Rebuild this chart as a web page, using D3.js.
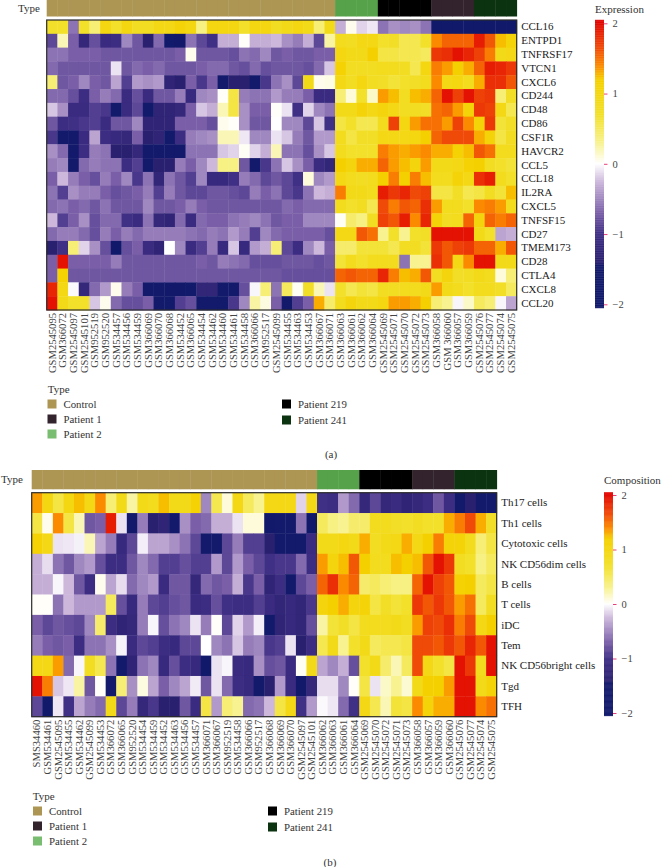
<!DOCTYPE html>
<html><head><meta charset="utf-8">
<style>html,body{margin:0;padding:0;background:#fff}svg{display:block}text{font-family:"Liberation Serif",serif;fill:#333}</style>
<script src="https://cdn.jsdelivr.net/npm/d3@7"></script></head><body><svg id="c" width="662" height="867"></svg>
<script>
const genes=["CCL16","ENTPD1","TNFRSF17","VTCN1","CXCL6","CD244","CD48","CD86","CSF1R","HAVCR2","CCL5","CCL18","IL2RA","CXCL5","TNFSF15","CD27","TMEM173","CD28","CTLA4","CXCL8","CCL20"];
const samplesA=["GSM2545095","GSM366072","GSM2545097","GSM2545101","GSM952519","GSM952520","GSM534457","GSM534456","GSM534459","GSM366069","GSM366070","GSM366068","GSM534452","GSM366065","GSM534454","GSM534462","GSM534460","GSM534461","GSM534458","GSM366066","GSM952517","GSM2545099","GSM534455","GSM534463","GSM534453","GSM366067","GSM366071","GSM366063","GSM366061","GSM366062","GSM366064","GSM2545069","GSM2545071","GSM2545070","GSM2545072","GSM2545073","GSM366058","GSM 366060","GSM366057","GSM366059","GSM2545076","GSM2545077","GSM2545074","GSM2545075"];
const cells=["Th17 cells","Th1 cells","Cytotoxic cells","NK CD56dim cells","B cells","T cells","iDC","Tem","NK CD56bright cells","Tgd","TFH"];
const samplesB=["SMS34460","GSM534461","GSM2545095","GSM534455","GSM534462","GSM2545099","GSM534453","GSM366072","GSM366065","GSM952520","GSM534454","GSM534459","GSM534452","GSM534463","GSM534456","GSM534457","GSM366071","GSM366067","GSM952519","GSM534458","GSM366066","GSM952517","GSM366068","GSM366069","GSM366070","GSM2545097","GSM2545101","GSM366062","GSM366063","GSM366061","GSM366064","GSM2545069","GSM2545070","GSM2545072","GSM2545071","GSM2545073","GSM366058","GSM366057","GSM366059","GSM366060","GSM2545076","GSM2545077","GSM2545074","GSM2545075"];
const typeNames=["Control","Patient 1","Patient 2","Patient 219","Patient 241"];
const typeColors=["#ad9554","#33232d","#56a24a","#000000","#0c3310"];
const legendColors=["#ad9554","#33232d","#78bd70","#000000","#0c3310"];
const typeOrder=["Control","Patient 2","Patient 219","Patient 1","Patient 241"];
const typeCounts=[27,4,5,4,4];
const colorStops=[-2.05,-1.45,-1.4,-1,-0.7,-0.25,0,0.3,0.7,1.2,1.4,1.65,2.05];
const colorValues=["#10196b","#141a6b","#2a2070","#3f2f85","#7a5fa8","#cdb8dc","#ffffff","#f8f290","#f2e02a","#f5d000","#fb8a00","#f04a08","#e00000"];
const legendTicks=[-2,-1,0,1,2];

const expression=[
[.7,.7,-.6,.7,.4,1,.7,1,.8,.8,.95,.95,1.1,1,.35,1,1,1,.7,1,1,.8,.9,1,.9,.4,.9,-.3,.05,-.15,-.08,-.6,-.45,-.5,-.45,-.6,-1.9,-1.9,-1.9,-1.9,-1.9,-1.9,-1.9,-1.9],
[-.85,.2,-.7,-1.2,-.8,-1.1,-1.05,-.5,-.75,-1.4,-.65,-1.7,-1.8,-.6,-.85,-1,-.3,-.3,.02,-.3,-.3,-.25,-.45,-.55,-.3,-.85,.25,.85,.8,.95,.95,.7,.75,.55,.55,.7,1.4,1.55,1.55,1.55,1.9,1.6,1.25,1.1],
[-.6,-.6,-.7,-.7,-.7,-.75,-.75,-.75,-.75,-.75,-.75,-.75,-.7,.05,-.75,-.75,-.75,-.8,-.6,-.65,-.5,-.75,-.7,-.75,-.75,-.7,-.7,1,.9,.9,1.2,.6,.6,.55,.55,.5,1.75,1.8,1.95,1.85,1.7,1.45,.9,.95],
[-.65,-.75,-.75,-.75,-.75,-.75,-.1,-.75,-.65,-.7,-.65,-.75,-.75,-.75,-.7,-.65,-.65,-.75,-.8,-.65,-.8,-.75,-.75,-.75,-.8,-.65,-.2,1.15,.8,.8,.8,.85,.85,.8,.55,1,1.45,1.35,1.2,1.3,1.55,1.9,1.85,1.75],
[.4,-.75,-.7,-.5,-.7,-.75,-.35,-.9,-.4,-.45,-.4,-1.3,-1.4,-.7,-.95,-.7,-1.45,-1.4,-1.4,-1.6,-.95,-.6,-.45,-.85,.9,.05,.07,.95,.8,1,.8,.75,.65,.7,.75,.85,1.4,.95,1,.85,1.3,1.8,1.8,1.6],
[-.65,-.65,-.8,-1.05,-.7,-.55,-.65,-1.1,-.8,-1.1,-.75,-.75,-.55,-1.15,-.5,-.45,.02,.6,-.55,-.6,-.6,-.4,-.55,-.55,-.7,-1.1,-1.1,.4,.1,.7,.15,1.35,1.25,.8,1.25,1.3,1.55,1.95,1.7,1.95,1.7,1.75,.4,.75],
[-.2,-.45,-1.1,-1.1,-.9,-.95,-1.7,-1.1,-.85,-1.7,-1.3,-1.3,-1.2,-.7,-.2,-.3,.2,.6,-.45,-.7,-.7,.02,-.1,-1,-.15,-.5,-.6,.9,.9,1.1,.95,1.05,.95,.8,.8,.75,1.5,1.55,1.35,1.1,1.75,1.7,.95,.55],
[-.75,-1.05,-1,-.95,-.9,-1.1,-.75,-.75,-.5,-1.3,-1.3,-1.3,-.7,-.7,-.7,-.8,.05,.02,-.45,-.75,-.75,0,-.5,-.5,-.85,-.2,-1,.6,.7,.55,.55,.85,1.7,1,1.35,1.5,1.5,1.35,1.7,1.4,1.1,1.75,.65,.75],
[-.95,-1.6,-1.6,-1.1,-.35,-1.05,-1.15,-1.2,-.7,-1.4,-1.3,-1.7,-1.05,-.55,-.5,-.45,.2,.2,-.08,-.5,-.5,-.1,-.2,-.55,-.75,-.4,-.4,.85,.6,.75,.75,.95,.95,.95,1,1.2,1.55,1.65,1.65,1.65,1.3,1.1,.6,.8],
[-.45,-.65,-1.5,-1.05,-.55,-.6,-1.4,-1.4,-1.2,-1.5,-1.5,-1.5,-1.5,-.6,-.6,-.6,-.2,-.15,.03,-.15,-.3,.2,-.6,-.6,-.8,-.45,-.2,.85,.7,.7,.7,1.45,1.35,1.3,1.35,1.4,1.3,1.3,1.15,1.25,1.6,1.5,.85,.85],
[-.55,-.5,-1.6,-.65,-.55,-.6,-.6,-1.05,-.9,-1.5,-1.4,-1.4,-.55,-.7,-.5,-.25,.35,.35,-.75,-1.5,-.95,-.6,-.2,-.45,-.7,-1.1,-1.25,1.2,1.05,1.3,1.3,1.55,1.35,1.25,1.05,1.35,.9,.9,.95,1.15,1.2,.8,.7,.65],
[-.7,-.25,-.55,-.7,-.8,-.55,-.7,-.5,-.95,-.6,-1.25,-.6,-.75,-.9,-.5,-1.15,-1.15,-1,-.55,-.65,-.85,-.75,-.85,-1,.1,-.5,-.4,.95,.85,.8,.85,1.2,1.45,1.2,1.45,1.25,.85,.85,1.1,.95,1.8,1.9,.85,.7],
[-.6,-.9,-.45,-.55,-.55,-.7,-.8,-.75,-.7,-.55,-.9,-.55,-.75,-.85,-.85,-.75,-.75,-.8,-.85,-.55,-.7,-.6,-.85,-.95,-.6,-.25,-.3,1.45,.9,.9,.85,1.9,1.75,1.85,1.65,1.7,.6,.6,.75,.55,.6,.8,.65,1.25],
[-.65,-.6,-.7,-.65,-.75,-.6,-.75,-.75,-.75,-.5,-.75,-.75,-.7,-.55,-.7,-.75,-.75,-.75,-.75,-.75,-.75,-.75,-.65,-.7,-.65,-.65,-.65,.85,.7,.8,.55,1.65,1.45,1.6,1.55,1.8,1.35,.85,.85,.7,1.4,1.45,1.35,.85],
[-.25,-.9,-.7,-.45,-.8,-.65,-.65,-1,-1.1,-.6,-1.2,-1.3,-.65,-1.1,-.65,-.7,-.7,-.6,-.55,-.5,-.6,-.75,-.7,-.7,-.5,-.5,-.5,.03,.45,.35,.8,1.7,1.6,1.9,1.4,1.85,1.1,.8,.85,1.55,1.05,1.55,1.45,1.55],
[-.65,-.55,-.55,-.65,-.8,-.55,-.7,-.55,-.65,-.55,-.55,-.55,-.55,-.6,-.65,-.55,-.6,-.4,-.55,-.9,-.5,-.65,-.7,-.7,-.7,-.7,-.8,.95,.95,1.6,1.5,.3,.7,.3,.7,.75,1.95,1.95,1.95,1.95,.9,.7,-.35,-.3],
[-1.4,-1,.4,-.15,-.45,-.8,-1.9,-.8,-.7,-1.1,-1.3,0,-.5,-1.1,-.9,-.55,-1.15,-.2,-1.15,-.4,-.3,.4,-.85,-1.05,-.5,-.25,-.7,.45,.45,.65,.65,.65,.55,.8,.8,.65,1.75,1.6,1.7,1.75,1.55,1.55,1.3,1.6],
[-.7,1.95,-.7,-.7,-.7,-.7,-.55,-.75,-.75,-.75,-.75,-.75,-.75,-.75,-.7,-.75,-.55,-.6,-.65,-.8,-.8,-.8,-.75,-.75,-.75,-.8,-.75,.65,.85,.7,.85,.85,.85,-.6,.3,.3,1.8,1.6,.95,1.4,1.95,1.95,.9,.9],
[-.7,1.15,-.75,-.75,-.75,-.75,-.75,-.75,-.75,-.75,-.75,-.75,-.75,-.75,-.75,-.75,-.75,-.75,-.75,-.75,-.75,-.75,-.8,-.8,-.8,-.8,-.8,1.55,1.6,1.55,1.55,1.85,1.45,1.25,1.3,1.6,.8,1.05,.75,.8,.9,.85,.1,.4],
[1.85,.95,-.02,-1.2,-.65,-.4,.05,-.55,-.7,-1.6,-1.6,-1.8,-1.8,-1.7,-1.25,-1.25,-1.5,-1.5,-.8,-.03,.4,-.6,.5,.03,.75,.2,-.1,.7,.55,.65,.6,.8,.8,.85,.85,.9,1.35,.9,.85,.7,.85,.85,.75,.5],
[1.95,.9,.7,.7,-.2,.05,-.65,-.8,-.8,-.7,-1.5,-1.7,-.9,-.8,-1.5,-1.55,-1.7,-.95,-.5,.25,.08,-.7,-1.6,-.9,-.7,1.3,.45,.85,1.05,.9,.9,1,1.35,1.35,1.3,1.2,.4,.3,-.03,.15,.5,.4,-.03,-.35]
];
const composition=[
[1.35,1,.6,1,1.25,.95,1.4,.4,.9,.25,.9,.85,1.25,.9,.9,1.15,-.5,.55,.1,.95,.5,.3,.95,.95,.95,-.15,.95,-1,-1.05,-.4,-.65,-1.2,-.85,-1.2,-1.1,-1.3,-1.2,-1.05,-.75,-1.05,-1.6,-1.4,-1.6,-1.5],
[.6,.05,1.4,.6,.2,-.75,-.7,1.9,-.1,-1.5,-.55,-1.4,-1.3,-1.5,-.45,-.7,-.65,-.3,-.3,-.1,.1,.1,-1.8,-1.5,-1.5,-.6,-1.9,.5,.35,.3,.45,.45,.85,.85,.75,.7,.8,.7,.7,1.3,1.45,1.65,1.3,.75],
[1.15,.95,-.1,-.08,-.05,.2,-.35,-.55,-1.15,-.85,-.06,-.35,-.35,-.45,-.6,-.85,-1.6,-1.45,-.85,-.55,-.9,-.9,-1.4,-1.6,-1.5,-1.5,-1.1,.9,.9,1,.9,1.3,.8,.9,.95,1.3,.95,1.2,1.45,1.1,1.1,.85,.4,.6],
[-.3,-.12,-.6,-.75,-.5,-.4,-.8,-1.05,-1.05,-.75,-.5,-.65,-.9,-.9,-.8,-.9,-.9,-.4,-.85,-.4,-.7,-.85,-1,-.95,-.95,-.65,-1.05,1.35,1.05,1.25,1.6,1.2,.85,.85,1.25,1.2,1.25,1.6,1.95,1.75,.8,.7,.35,.5],
[-.3,-.3,-.03,-.25,-.75,-1.05,.05,-.35,-.12,-.65,-.5,-.4,-1.1,-.75,-.75,-1.2,-.65,-.75,-.7,-.3,-.95,-.7,-1.3,-1.05,-1.5,-.85,-.7,1.55,1.8,1.4,1.55,.45,.5,.4,.35,.35,1.55,1.95,1.7,1.6,1.15,1.2,.5,.6],
[.02,.02,-.6,-.25,-.4,-.4,-.4,.5,-.8,-1.15,-.55,-.85,-.9,-.8,-.75,-1.1,-1.05,-.8,-1,-1.05,-1.05,-.9,-1.1,-1.25,-1.15,-1.25,-.95,1.05,1.2,1.3,1.05,1.1,.6,.75,.65,.7,1.75,1.6,1.75,1.6,1.35,1.5,.5,.8],
[-.7,-.85,-.75,-.8,-.85,-.5,.45,-1.05,-1.3,-1.2,-.55,-.03,-.8,-.6,-.5,-.1,-.55,.02,-.85,-.15,-.4,-.06,-1.7,-1.3,-1.15,-1.25,-.8,.25,.65,.75,.6,.85,.85,.85,.9,.8,1.35,1.7,1.65,1.8,1.45,1.65,.95,1.2],
[-.55,-.7,-.75,-.7,-1.05,-.6,-.6,-.45,-.04,-1.1,-.85,-.9,-1.05,-1.15,-.85,-.85,0,-.5,-.6,-.2,-.55,-.5,-.95,-.9,-.1,-1.4,-1.05,.55,.9,.3,.7,.9,.5,.55,.55,.6,1.65,1.65,1.6,1.75,1.6,1.85,1.6,1.95],
[.95,.95,1.35,-.65,-.03,.8,.55,-.6,-1.6,-1.3,-.6,-.5,-1.15,-.8,-1.05,-1.15,-1.85,-.1,-.03,-1.1,-1.15,-.45,-.8,-.75,-1.1,.03,.9,-.35,-.5,-.3,-.8,.7,.9,.45,.2,.5,1.65,.95,.7,.6,1.95,1.75,.85,1.95],
[1.95,1.45,-.2,-.08,.25,-.75,.02,-1.6,.4,-.45,.08,-.35,-.7,-.5,-.35,-.07,-.75,-.1,-.65,-1.05,-1.15,-1.5,-1.4,-.4,-1.1,-1.8,-1.2,-.12,-.12,-.5,.02,.6,-.1,.15,.3,.12,.9,1.2,1.2,1.35,1.95,1.95,.9,1.1],
[-.85,-1.85,-.08,-1,-.35,-.55,-.65,.9,-.85,-.55,-1.2,-.95,-1.4,-1.4,-.75,-1.1,.6,-.4,.4,.3,-.65,-.6,-.25,.6,.95,-1,-.4,-.02,-.08,-.65,-1,.95,.55,.2,.65,.6,1.4,1.1,1.3,1.3,1.95,1.95,1.4,1.5]
];

const svg=d3.select("#c");
const color=d3.scaleLinear().domain(colorStops).range(colorValues).clamp(true);
const panelTypes=typeOrder.flatMap((t,i)=>d3.range(typeCounts[i]).map(()=>t));
const typeColor=d3.scaleOrdinal().domain(typeNames).range(typeColors);
const legendColor=d3.scaleOrdinal().domain(typeNames).range(legendColors);

function panel(o){
  const g=svg.append("g");
  const x=d3.scaleBand().domain(o.samples.map((s,i)=>i)).range([o.x0,o.x1]);
  const y=d3.scaleBand().domain(o.rows).range([o.y0,o.y1]);
  g.append("text").attr("x",o.typeX).attr("y",(o.barY0+o.barY1)/2).attr("dy","0.33em").attr("font-size",11).text("Type");
  g.append("g").selectAll("rect").data(panelTypes).join("rect")
    .attr("x",(d,i)=>x(i)).attr("width",x.bandwidth()+.4).attr("y",o.barY0).attr("height",o.barY1-o.barY0).attr("fill",d=>typeColor(d));
  o.matrix.forEach((vals,r)=>{
    g.append("g").selectAll("rect").data(vals).join("rect")
      .attr("x",(d,i)=>x(i)).attr("y",y(o.rows[r])).attr("width",x.bandwidth()+.4).attr("height",y.bandwidth()+.4).attr("fill",d=>color(d));
  });
  g.append("rect").attr("x",o.x0).attr("y",o.y0).attr("width",o.x1-o.x0).attr("height",o.y1-o.y0).attr("fill","none").attr("stroke","#2a2a2a").attr("stroke-width",1.2);
  const ax=g.append("g").attr("transform",`translate(0,${o.y1})`)
    .call(d3.axisBottom(x).tickSize(0).tickFormat(i=>o.samples[i]));
  ax.select(".domain").remove();
  ax.selectAll("text").attr("font-size",10.6).attr("text-anchor","end").style("fill","#444")
    .attr("font-family",null).attr("transform","rotate(-90)").attr("x",-3).attr("y",0).attr("dy","0.33em");
  const ay=g.append("g").attr("transform",`translate(${o.x1},0)`)
    .call(d3.axisRight(y).tickSize(0).tickPadding(o.rowPad));
  ay.select(".domain").remove();
  ay.selectAll("text").attr("font-size",11).style("fill","#222");

  // colour bar
  const ly=d3.scaleLinear().domain([-2,2]).range([o.ly2,o.ly1]);
  const bar=g.append("g");
  const steps=d3.range(-2.05,2.05,0.01);
  bar.selectAll("rect").data(steps).join("rect")
    .attr("x",o.lx).attr("width",9).attr("y",d=>ly(d+0.01)).attr("height",d=>Math.abs(ly(d)-ly(d+0.01))+.4).attr("fill",d=>color(d));
  const la=g.append("g").attr("transform",`translate(${o.lx+9},0)`)
    .call(d3.axisRight(ly).tickValues(legendTicks).tickSize(3.5).tickPadding(5).tickFormat(d=>d<0?"\u2212"+(-d):d));
  la.select(".domain").remove();
  la.selectAll("line").attr("stroke","#e8417a");
  la.selectAll("text").attr("font-size",10.5).style("fill","#444");
  g.append("text").attr("x",o.lx).attr("y",o.titleY).attr("dy","0.33em").attr("font-size",11).text(o.title);

  // type legend
  g.append("text").attr("x",o.x0+1).attr("y",o.legY[0]-14.5).attr("dy","0.33em").attr("font-size",11).text("Type");
  const leg=g.append("g").selectAll("g").data(typeNames).join("g")
    .attr("transform",(d,i)=>`translate(${i<3?o.legX1:o.legX2},${i<3?o.legY[i]:o.legY2[i-3]})`);
  leg.append("rect").attr("x",0).attr("y",-4.5).attr("width",9).attr("height",9).attr("fill",d=>legendColor(d));
  leg.append("text").attr("x",16).attr("dy","0.33em").attr("font-size",10.8).text(d=>d);
  g.append("text").attr("x",o.capX).attr("y",o.capY).attr("dy","0.33em").attr("text-anchor","middle").attr("font-size",11).text(o.cap);
}

panel({samples:samplesA,rows:genes,matrix:expression,x0:46.7,x1:516.7,y0:20,y1:310,barY0:0,barY1:16.5,typeX:18,rowPad:4.5,
  lx:595,ly1:23.3,ly2:304.3,title:"Expression",titleY:9,legX1:47.5,legX2:282,legY:[404,419,434],legY2:[404,420],cap:"(a)",capX:331,capY:454});
panel({samples:samplesB,rows:cells,matrix:composition,x0:31.7,x1:496.7,y0:492.7,y1:716.7,barY0:470,barY1:489.3,typeX:1,rowPad:4.5,
  lx:604,ly1:495,ly2:713,title:"Composition",titleY:480.5,legX1:33,legX2:268,legY:[811,826,841],legY2:[811,827],cap:"(b)",capX:330,capY:862});
</script></body></html>
